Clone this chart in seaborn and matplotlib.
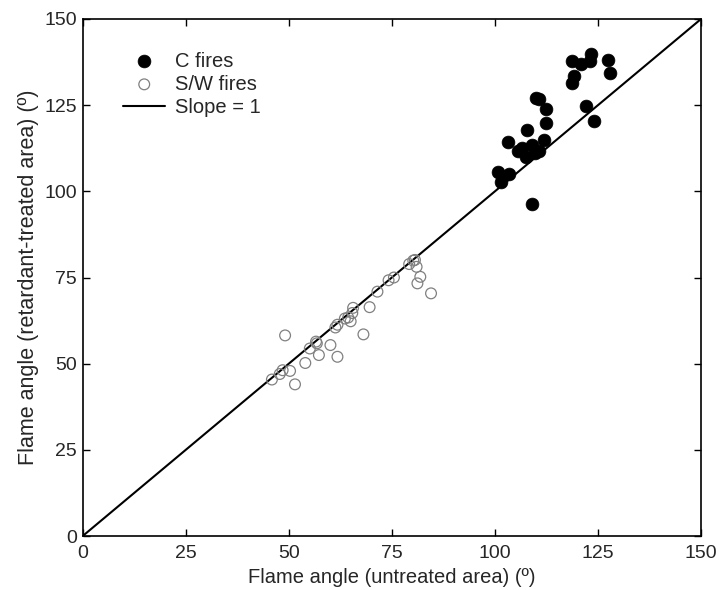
import matplotlib
matplotlib.use("Agg")
import matplotlib.pyplot as plt
import seaborn as sns
import pandas as pd
import numpy as np

c_x = [118.7, 120.9, 123.3, 123.1, 127.4, 127.9, 119.3, 118.7, 110.0, 110.8,
       112.5, 122.1, 124.1, 112.5, 107.8, 111.9, 103.1, 106.5, 109.0, 105.7,
       107.5, 109.8, 110.8, 100.7, 103.4, 101.4, 109.0]
c_y = [137.9, 136.9, 139.7, 137.9, 138.1, 134.3, 133.6, 131.4, 127.0, 126.7,
       124.0, 124.9, 120.3, 119.8, 117.7, 115.0, 114.4, 112.6, 113.5, 111.6,
       110.1, 111.1, 111.6, 105.6, 104.9, 102.6, 96.2]

sw_x = [45.9, 47.8, 48.5, 50.3, 51.5, 49.1, 54.0, 55.1, 56.6, 56.8, 57.3,
        60.1, 61.8, 61.3, 61.8, 63.6, 64.4, 65.0, 65.4, 65.6, 68.1, 69.6,
        71.5, 74.2, 75.5, 79.2, 80.2, 80.6, 81.0, 81.9, 81.2, 84.5]
sw_y = [45.4, 47.0, 48.1, 47.9, 44.0, 58.2, 50.2, 54.4, 56.4, 55.9, 52.5,
        55.4, 52.0, 60.5, 61.3, 63.1, 63.4, 62.3, 64.7, 66.2, 58.5, 66.4,
        70.9, 74.2, 75.0, 78.9, 79.9, 80.1, 78.1, 75.2, 73.3, 70.4]

line_x = [0, 150]
line_y = [0, 150]
ticks = [0, 25, 50, 75, 100, 125, 150]

sns.set_style("ticks")
plt.rcParams['font.family'] = ['Liberation Sans', 'DejaVu Sans']

fig = plt.figure(figsize=(7.21, 5.90), dpi=100)
ax = fig.add_axes([0.1147, 0.0915, 0.8576, 0.8763])

df_c = pd.DataFrame({"x": c_x, "y": c_y})
df_sw = pd.DataFrame({"x": sw_x, "y": sw_y})

sns.scatterplot(data=df_c, x="x", y="y", ax=ax, s=85, color="black",
                edgecolor="black", linewidth=0.5, label="C fires", zorder=3)
sns.scatterplot(data=df_sw, x="x", y="y", ax=ax, s=60, facecolor="none",
                edgecolor="#808080", linewidth=0.9, label="S/W fires", zorder=3)
sns.lineplot(x=line_x, y=line_y, ax=ax, color="black", linewidth=1.5,
             label="Slope = 1", zorder=2)

ax.set_xlim(0, 150)
ax.set_ylim(0, 150)
ax.set_xticks(ticks)
ax.set_yticks(ticks)
ax.tick_params(direction="in", length=5, width=1, labelsize=14,
               top=True, right=True, color="black")
ax.tick_params(axis="x", pad=6.5)
ax.tick_params(axis="y", pad=4)
for sp in ax.spines.values():
    sp.set_visible(True)
    sp.set_linewidth(1.2)
    sp.set_color("black")
ax.set_xlabel("Flame angle (untreated area) (º)", fontsize=14.5, labelpad=4)
ax.set_ylabel("Flame angle (retardant-treated area) (º)", fontsize=15.5, labelpad=4)

leg = ax.legend(loc="upper left", frameon=False, fontsize=14.5,
                bbox_to_anchor=(0.036, 0.972), handlelength=2.1,
                handletextpad=0.5, labelspacing=0.2, borderpad=0.4)

fig.savefig("out.png", dpi=100)
